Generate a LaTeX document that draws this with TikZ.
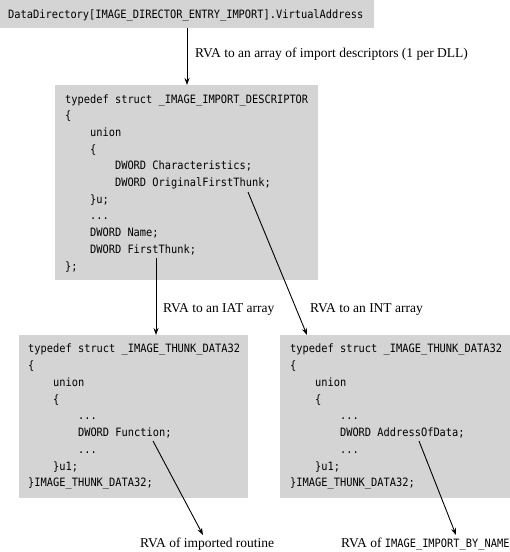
\documentclass[tikz,border=0pt]{standalone}
\usepackage{fontspec}
\setmainfont{Liberation Serif}
\newfontfamily\codefont[FakeStretch=0.9]{DejaVu Sans Mono}
\usetikzlibrary{arrows.meta}
\definecolor{boxgray}{RGB}{212,212,212}
\newcommand{\codedots}{...}
\tikzset{
  box/.style={fill=boxgray, draw=none, inner sep=0pt, anchor=north west},
  code/.style={anchor=base west, inner sep=0pt, font=\codefont\fontsize{11.5}{14}\selectfont},
  lbl/.style={anchor=base west, inner sep=0pt, font=\fontsize{13.5}{16}\selectfont},
  conn/.style={draw=black, line width=0.9pt, -{Stealth[length=7pt,width=5pt]}},
}
\begin{document}
\begin{tikzpicture}[x=1pt,y=-1pt]
\useasboundingbox (0,0) rectangle (510,552);
% boxes
\node[box, minimum width=374pt, minimum height=28pt] (dirbox) at (0,0) {};
\node[box, minimum width=263pt, minimum height=195pt] (descbox) at (55,85) {};
\node[box, minimum width=229pt, minimum height=163pt] (iatbox) at (19,335) {};
\node[box, minimum width=230pt, minimum height=163pt] (intbox) at (280,335) {};
% top text
\node[code] (dirtext) at (8,18.3) {DataDirectory[IMAGE\_DIRECTOR\_ENTRY\_IMPORT].VirtualAddress};
% descriptor
\foreach \ind/\t [count=\i from 0] in {
  0/typedef struct \_IMAGE\_IMPORT\_DESCRIPTOR,
  0/\{,
  4/union,
  4/\{,
  8/DWORD Characteristics;,
  8/DWORD OriginalFirstThunk;,
  4/\}u;,
  4/\codedots,
  4/DWORD Name;,
  4/DWORD FirstThunk;,
  0/\};}
  \node[code] (d\i) at ({65+\ind*6.23},{103+\i*16.7}) {\t};
% IAT thunk
\foreach \ind/\t [count=\i from 0] in {
  0/typedef struct \_IMAGE\_THUNK\_DATA32,
  0/\{,
  4/union,
  4/\{,
  8/\codedots,
  8/DWORD Function;,
  8/\codedots,
  4/\}u1;,
  0/\}IMAGE\_THUNK\_DATA32;}
  \node[code] (a\i) at ({28+\ind*6.23},{352.7+\i*16.78}) {\t};
% INT thunk
\foreach \ind/\t [count=\i from 0] in {
  0/typedef struct \_IMAGE\_THUNK\_DATA32,
  0/\{,
  4/union,
  4/\{,
  8/\codedots,
  8/DWORD AddressOfData;,
  8/\codedots,
  4/\}u1;,
  0/\}IMAGE\_THUNK\_DATA32;}
  \node[code] (n\i) at ({290+\ind*6.23},{352.7+\i*16.78}) {\t};
% labels
\node[lbl] (lbltop) at (195,57) {RVA to an array of import descriptors (1 per DLL)};
\node[lbl] (lbliat) at (163,312) {RVA to an IAT array};
\node[lbl] (lblint) at (310,312) {RVA to an INT array};
\node[lbl] (lblfn) at (140,547) {RVA of imported routine};
\node[lbl] (lblname) at (341,547) {RVA of {\codefont\fontsize{11.5}{14}\selectfont IMAGE\_IMPORT\_BY\_NAME}};
% connector endpoints
\coordinate (topsrc) at (187,28);
\coordinate (topdst) at (187,85);
\coordinate (ftsrc) at (156,258);
\coordinate (ftdst) at (156,335);
\coordinate (ofsrc) at (248,192);
\coordinate (ofdst) at (307,335);
\coordinate (fnsrc) at (153,441);
\coordinate (fndst) at (203,535);
\coordinate (adsrc) at (419,441);
\coordinate (addst) at (456,535);
% connectors
\draw[conn] (topsrc) -- (topdst);
\draw[conn] (ftsrc) -- (ftdst);
\draw[conn] (ofsrc) -- (ofdst);
\draw[conn] (fnsrc) -- (fndst);
\draw[conn] (adsrc) -- (addst);
\end{tikzpicture}
\end{document}
